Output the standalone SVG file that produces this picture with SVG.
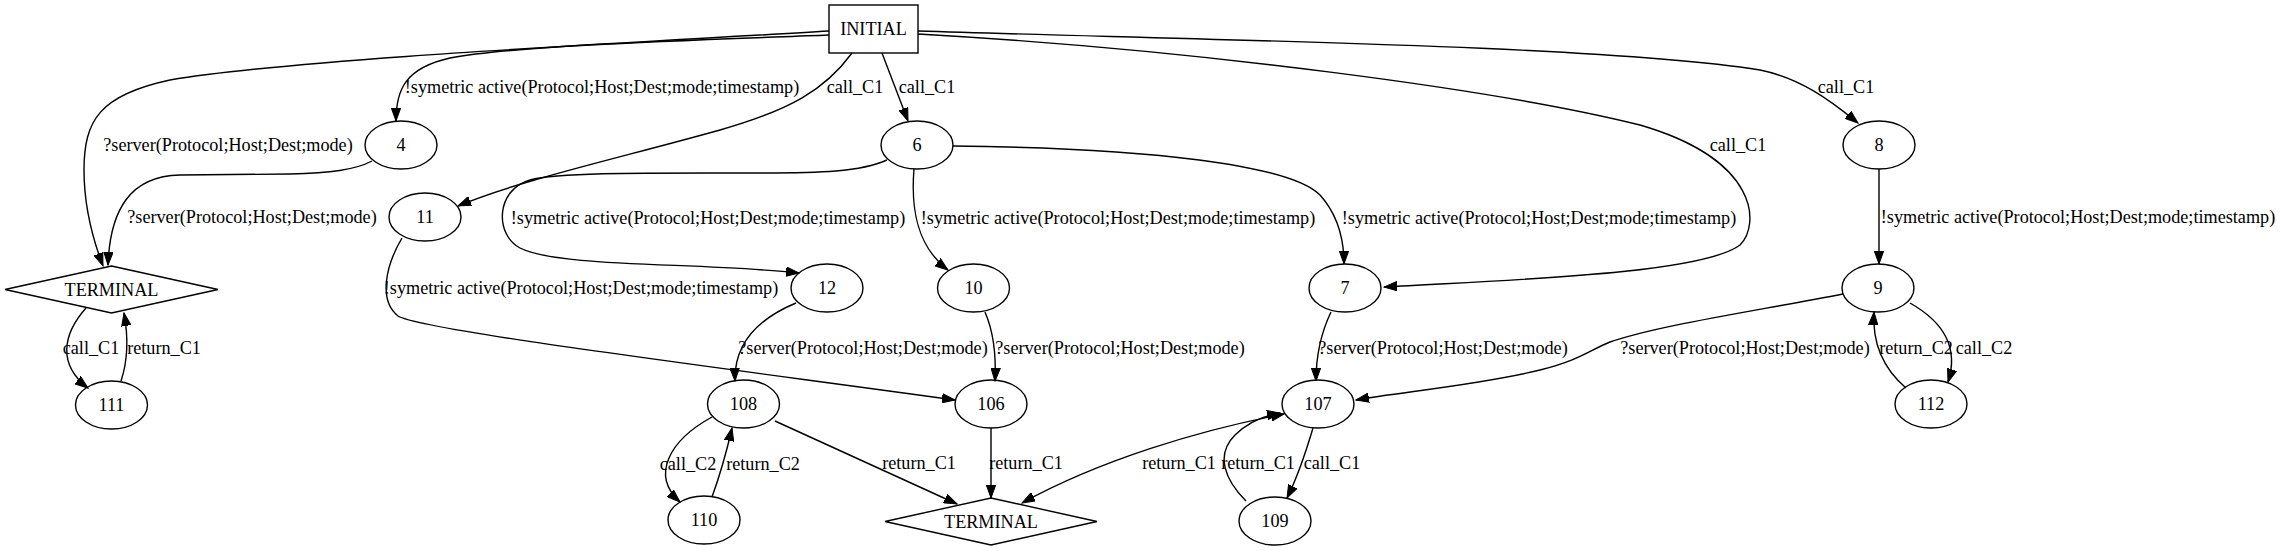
<svg xmlns="http://www.w3.org/2000/svg" width="2280" height="551" viewBox="0 0 2280 551">
<style>
  .n { fill: none; stroke: #000; stroke-width: 1.4; }
  .e { fill: none; stroke: #000; stroke-width: 1.4; marker-end: url(#arr); }
  .both { marker-start: url(#arrs); }
  text { font-family: "Liberation Serif", "Times New Roman", serif; font-size: 18.2px; fill: #000; text-anchor: middle; }
</style>
<defs>
  <marker id="arr" markerWidth="14" markerHeight="10" refX="13" refY="5" orient="auto" markerUnits="userSpaceOnUse">
    <path d="M0,0.3 L13,5 L0,9.7 z" fill="#000" stroke="#000" stroke-width="1"/>
  </marker>
  <marker id="arrs" markerWidth="14" markerHeight="10" refX="1" refY="5" orient="auto" markerUnits="userSpaceOnUse">
    <path d="M14,0.3 L1,5 L14,9.7 z" fill="#000" stroke="#000" stroke-width="1"/>
  </marker>
</defs>
<rect x="0" y="0" width="2280" height="551" fill="#fff"/>

<g id="connectors">
  <g id="e-INITIAL-TERMINAL1"><path class="e" d="M829,31 C650,42 300,58 170,80 C100,95 84,120 84,170 C84,210 95,245 103,266"/><text x="228" y="151">?server(Protocol;Host;Dest;mode)</text></g>
  <g id="e-INITIAL-4"><path class="e" d="M829,35 C700,40 520,45 450,58 C405,68 396,90 396,121"/><text x="602" y="93">!symetric active(Protocol;Host;Dest;mode;timestamp)</text></g>
  <g id="e-INITIAL-11"><path class="e" d="M852,53 C825,90 790,110 720,130 C620,158 520,180 458,206"/><text x="855" y="93">call_C1</text></g>
  <g id="e-INITIAL-6"><path class="e" d="M882,53 L908,121"/><text x="927" y="93">call_C1</text></g>
  <g id="e-INITIAL-8"><path class="e" d="M918,31 C1200,40 1600,45 1760,70 C1800,78 1830,100 1858,123"/><text x="1846" y="93">call_C1</text></g>
  <g id="e-INITIAL-7"><path class="e" d="M918,34 C1200,50 1500,90 1640,125 C1760,160 1760,225 1740,245 C1700,275 1500,280 1384,287"/><text x="1738" y="151">call_C1</text></g>
  <g id="e-6-12"><path class="e" d="M887,160 C860,172 820,173 760,173 C650,173 560,172 530,180 C495,190 495,235 520,248 C560,268 700,262 799,273"/><text x="708" y="224">!symetric active(Protocol;Host;Dest;mode;timestamp)</text></g>
  <g id="e-6-10"><path class="e" d="M914,169 C911,205 915,245 948,270"/><text x="1118" y="224">!symetric active(Protocol;Host;Dest;mode;timestamp)</text></g>
  <g id="e-6-7"><path class="e" d="M953,146 C1150,148 1290,165 1320,195 C1338,215 1344,240 1344,264"/><text x="1539" y="224">!symetric active(Protocol;Host;Dest;mode;timestamp)</text></g>
  <g id="e-8-9"><path class="e" d="M1879,169 L1879,264"/><text x="2078" y="223">!symetric active(Protocol;Host;Dest;mode;timestamp)</text></g>
  <g id="e-4-TERMINAL1"><path class="e" d="M372,161 C355,170 330,173 290,174 L180,175 C130,176 110,210 108,265"/><text x="252" y="223">?server(Protocol;Host;Dest;mode)</text></g>
  <g id="e-11-106"><path class="e" d="M402,238 C386,265 378,300 398,316 C420,330 700,365 955,400"/><text x="581" y="294">!symetric active(Protocol;Host;Dest;mode;timestamp)</text></g>
  <g id="e-12-108"><path class="e" d="M796,303 C755,320 734,345 735,381"/><text x="863" y="354">?server(Protocol;Host;Dest;mode)</text></g>
  <g id="e-10-106"><path class="e" d="M985,312 C995,335 996,360 995,381"/><text x="1120" y="354">?server(Protocol;Host;Dest;mode)</text></g>
  <g id="e-108-TERMINAL2"><path class="e" d="M775,421 L957,504"/><text x="919" y="469">return_C1</text></g>
  <g id="e-106-TERMINAL2"><path class="e" d="M991,428 L991,498"/><text x="1026" y="469">return_C1</text></g>
  <g id="e-108-110"><path class="e" d="M712,417 C670,440 650,475 680,502"/><text x="688" y="470">call_C2</text></g>
  <g id="e-110-108"><path class="e" d="M712,497 C720,475 727,450 732,428"/><text x="763" y="470">return_C2</text></g>
  <g id="e-7-107"><path class="e" d="M1331,312 C1320,335 1316,360 1316,381"/><text x="1443" y="354">?server(Protocol;Host;Dest;mode)</text></g>
  <g id="e-9-107"><path class="e" d="M1843,294 C1750,312 1660,325 1610,342 C1590,350 1580,360 1540,370 C1480,385 1400,392 1356,400"/><text x="1745" y="354">?server(Protocol;Host;Dest;mode)</text></g>
  <g id="e-107-TERMINAL2"><path class="e both" d="M1022,503 C1100,460 1200,430 1284,414"/><text x="1179" y="469">return_C1</text></g>
  <g id="e-109-107"><path class="e" d="M1246,501 C1225,480 1215,455 1235,435 C1248,422 1262,416 1280,413"/><text x="1258" y="469">return_C1</text></g>
  <g id="e-107-109"><path class="e" d="M1313,428 C1305,455 1297,478 1287,498"/><text x="1332" y="469">call_C1</text></g>
  <g id="e-9-112"><path class="e" d="M1910,303 C1940,320 1960,345 1948,382"/><text x="1984" y="354">call_C2</text></g>
  <g id="e-112-9"><path class="e" d="M1906,388 C1885,370 1872,345 1874,312"/><text x="1916" y="354">return_C2</text></g>
  <g id="e-TERMINAL1-111"><path class="e" d="M86,308 C62,335 58,365 88,388"/><text x="91" y="354">call_C1</text></g>
  <g id="e-111-TERMINAL1"><path class="e" d="M121,381 C128,360 128,335 124,313"/><text x="164" y="354">return_C1</text></g>
</g>

<g id="node-INITIAL"><rect class="n" x="829" y="5" width="89" height="48"/><text x="873.5" y="35">INITIAL</text></g>
<g id="node-4"><ellipse class="n" cx="401" cy="145" rx="36" ry="24"/><text x="401" y="151">4</text></g>
<g id="node-6"><ellipse class="n" cx="917" cy="145" rx="36" ry="24"/><text x="917" y="151">6</text></g>
<g id="node-8"><ellipse class="n" cx="1879" cy="145" rx="36" ry="24"/><text x="1879" y="151">8</text></g>
<g id="node-11"><ellipse class="n" cx="425" cy="217" rx="36" ry="24"/><text x="425" y="223">11</text></g>
<g id="node-TERMINAL1"><polygon class="n" points="111.5,266 218,289.5 111.5,313 5,289.5"/><text x="111.5" y="295.5">TERMINAL</text></g>
<g id="node-12"><ellipse class="n" cx="827" cy="288" rx="36" ry="24"/><text x="827" y="294">12</text></g>
<g id="node-10"><ellipse class="n" cx="973.5" cy="288" rx="36" ry="24"/><text x="973.5" y="294">10</text></g>
<g id="node-7"><ellipse class="n" cx="1345" cy="288" rx="36" ry="24"/><text x="1345" y="294">7</text></g>
<g id="node-9"><ellipse class="n" cx="1878" cy="288" rx="36" ry="24"/><text x="1878" y="294">9</text></g>
<g id="node-111"><ellipse class="n" cx="111.5" cy="405" rx="36" ry="24"/><text x="111.5" y="411">111</text></g>
<g id="node-108"><ellipse class="n" cx="743.5" cy="404" rx="36" ry="24"/><text x="743.5" y="410">108</text></g>
<g id="node-106"><ellipse class="n" cx="991" cy="404" rx="36" ry="24"/><text x="991" y="410">106</text></g>
<g id="node-107"><ellipse class="n" cx="1318" cy="404" rx="36" ry="24"/><text x="1318" y="410">107</text></g>
<g id="node-112"><ellipse class="n" cx="1931" cy="404" rx="36" ry="24"/><text x="1931" y="410">112</text></g>
<g id="node-110"><ellipse class="n" cx="704" cy="520" rx="36" ry="24"/><text x="704" y="526">110</text></g>
<g id="node-TERMINAL2"><polygon class="n" points="991,498 1097,521.5 991,545 885,521.5"/><text x="991" y="527.5">TERMINAL</text></g>
<g id="node-109"><ellipse class="n" cx="1275" cy="521" rx="36" ry="24"/><text x="1275" y="527">109</text></g>
</svg>
